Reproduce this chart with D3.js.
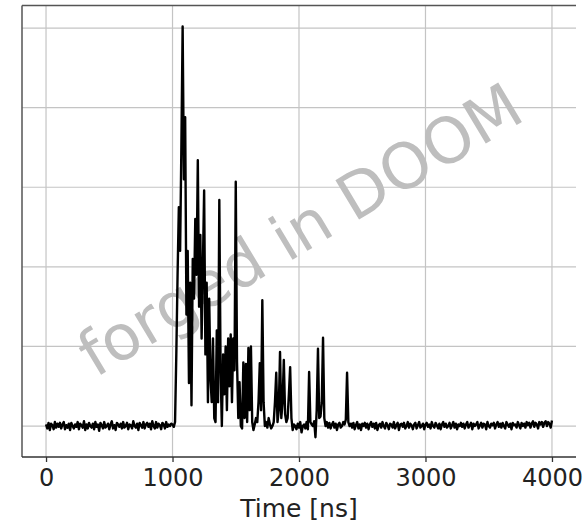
<!DOCTYPE html>
<html>
<head>
<meta charset="utf-8">
<script src="https://cdn.jsdelivr.net/npm/d3@7"></script>
<style>
  html, body { margin: 0; padding: 0; background: #fff; }
  svg { display: block; }
</style>
</head>
<body>
<div id="chart"></div>
<script>
// ---- data ----
const sampleStepNs = 10;
const xTickValues = [0, 1000, 2000, 3000, 4000];
const yGridValues = [0, 1, 2, 3, 4, 5];
const xLabel = "Time [ns]";
const watermark = "forged in DOOM";

// t = 0 .. 990 ns
const preTriggerNoise = [
  0.02,-0.03,0.04,-0.05,0.03,0.01,-0.04,0.05,-0.02,0.03,
  -0.01,0.04,-0.03,0.02,0.05,-0.04,0.01,-0.02,0.03,-0.05,
  0.04,0.00,-0.03,0.02,-0.01,0.05,-0.04,0.03,0.01,-0.02,
  0.06,-0.05,0.02,-0.03,0.04,0.00,-0.02,0.03,-0.04,0.05,
  -0.01,0.02,-0.06,0.04,0.01,-0.03,0.05,-0.02,0.00,0.03,
  -0.04,0.02,0.06,-0.03,0.01,-0.05,0.04,0.02,-0.01,0.03,
  -0.03,0.05,-0.02,0.00,0.04,-0.04,0.02,0.01,-0.03,0.06,
  0.00,-0.02,0.03,-0.05,0.04,0.01,-0.02,0.05,-0.03,0.02,
  0.04,-0.01,0.03,-0.04,0.06,0.00,-0.03,0.05,-0.02,0.03,
  0.01,-0.04,0.04,0.02,-0.03,0.05,-0.01,0.02,0.00,0.03
];

// t = 1000 .. 2400 ns
const pulseTrain = [
  0.02,-0.01,0.05,0.90,1.90,2.75,2.20,3.50,5.02,3.10,   // 1000-1090
  3.88,1.40,2.20,0.54,1.80,0.26,2.10,1.60,2.60,1.90,    // 1100-1190
  3.34,1.50,2.40,1.10,2.00,2.96,0.90,1.80,0.30,1.60,    // 1200-1290
  0.60,0.30,1.10,0.10,0.05,1.20,0.30,2.84,0.70,0.00,    // 1300-1390
  0.90,0.40,1.00,0.20,1.10,0.50,1.15,0.30,1.10,0.70,    // 1400-1490
  3.07,0.80,0.10,0.55,0.00,-0.03,0.80,0.10,0.78,0.05,   // 1500-1590
  0.98,0.20,1.00,0.05,-0.05,0.02,0.10,0.05,0.30,0.79,   // 1600-1690
  0.20,1.58,0.30,0.00,0.05,-0.02,0.10,0.02,-0.03,0.00,  // 1700-1790
  0.05,0.30,0.67,0.05,0.20,0.93,0.10,0.30,0.83,0.15,    // 1800-1890
  0.05,0.10,0.40,0.74,0.10,-0.05,0.02,0.00,-0.04,0.03,  // 1900-1990
  -0.02,0.05,-0.08,0.00,0.02,-0.03,0.05,-0.04,0.68,0.05,// 2000-2090
  0.02,0.00,0.06,-0.14,0.20,0.97,0.10,0.12,0.30,1.11,   // 2100-2190
  0.10,0.00,0.05,-0.02,0.04,-0.03,0.02,0.05,-0.02,0.03, // 2200-2290
  -0.05,0.02,0.04,-0.02,0.00,0.05,0.02,0.08,0.67,0.05,  // 2300-2390
  0.00                                                  // 2400
];

// t = 2410 .. 4000 ns
const tailNoise = [
  0.03,-0.02,0.04,-0.04,0.01,0.05,-0.03,0.02,-0.05,0.03,
  0.00,0.04,-0.02,0.03,-0.04,0.02,0.05,-0.01,0.03,-0.03,
  0.04,-0.05,0.01,0.03,-0.02,0.05,0.00,-0.03,0.04,0.01,
  -0.04,0.03,0.02,-0.02,0.05,-0.03,0.01,0.04,-0.05,0.02,
  0.03,-0.01,0.04,-0.03,0.00,0.05,-0.02,0.03,0.01,-0.04,
  0.02,0.04,-0.03,0.01,0.05,-0.02,0.00,0.03,-0.04,0.02,
  0.04,-0.01,0.02,-0.03,0.05,0.00,-0.02,0.04,0.01,-0.03,
  0.03,-0.04,0.02,0.05,-0.01,0.03,-0.02,0.00,0.04,-0.03,
  0.01,0.05,-0.02,0.03,-0.04,0.02,0.00,0.04,-0.01,0.03,
  -0.03,0.02,0.05,-0.02,0.01,0.04,-0.04,0.03,0.00,0.02,
  0.05,-0.03,0.01,0.04,-0.02,0.03,0.02,-0.04,0.05,0.00,
  -0.02,0.03,0.01,0.04,-0.03,0.02,0.05,-0.01,0.03,-0.02,
  0.04,0.00,-0.03,0.05,0.02,-0.01,0.03,-0.04,0.04,0.01,
  0.02,-0.02,0.05,0.01,-0.03,0.04,0.00,0.03,-0.02,0.05,
  0.01,0.04,-0.02,0.03,0.06,-0.01,0.04,0.02,-0.03,0.05,
  0.02,0.05,-0.01,0.04,0.06,0.00,0.05,0.03,-0.02,0.07
];

// ---- chart ----
const W = 583, H = 525;
const plot = { left: 22, right: 576, top: 5.5, bottom: 457 };

const signal = preTriggerNoise.concat(pulseTrain, tailNoise);
const points = signal.map((v, i) => ({ t: i * sampleStepNs, v }));

const x = d3.scaleLinear().domain([-190, 4190]).range([plot.left, plot.right]);
const y = d3.scaleLinear().domain([-0.389, 5.283]).range([plot.bottom, plot.top]);

const svg = d3.select("#chart").append("svg")
  .attr("width", W).attr("height", H);

// grid
const grid = svg.append("g").attr("stroke", "#c4c4c4").attr("stroke-width", 1.2);
grid.selectAll("line.v").data(xTickValues).join("line")
  .attr("x1", d => x(d)).attr("x2", d => x(d))
  .attr("y1", plot.top).attr("y2", plot.bottom);
grid.selectAll("line.h").data(yGridValues).join("line")
  .attr("x1", plot.left).attr("x2", plot.right)
  .attr("y1", d => y(d)).attr("y2", d => y(d));

// watermark (under the trace)
svg.append("text")
  .attr("transform", "translate(300,230) rotate(-31)")
  .attr("text-anchor", "middle")
  .attr("dominant-baseline", "central")
  .attr("font-family", "DejaVu Sans")
  .attr("font-size", 63)
  .attr("fill", "#bebebe")
  .text(watermark);

// trace
const line = d3.line().x(d => x(d.t)).y(d => y(d.v));
svg.append("path")
  .datum(points)
  .attr("d", line)
  .attr("fill", "none")
  .attr("stroke", "#000")
  .attr("stroke-width", 2.4)
  .attr("stroke-linejoin", "round");

// spines
svg.append("line").attr("x1", plot.left).attr("x2", plot.right)
  .attr("y1", plot.top).attr("y2", plot.top)
  .attr("stroke", "#555").attr("stroke-width", 1.5);
svg.append("line").attr("x1", plot.left).attr("x2", plot.left)
  .attr("y1", plot.top).attr("y2", plot.bottom)
  .attr("stroke", "#555").attr("stroke-width", 1.5);

// x axis
const xAxis = d3.axisBottom(x).tickValues(xTickValues).tickFormat(d3.format("d"))
  .tickSize(5).tickPadding(7);
const gx = svg.append("g").attr("transform", `translate(0,${plot.bottom})`).call(xAxis);
gx.select(".domain").attr("stroke", "#333").attr("stroke-width", 1.5)
  .attr("d", `M${plot.left},0H${plot.right}`);
gx.selectAll(".tick line").attr("stroke", "#333").attr("stroke-width", 1.3);
gx.selectAll(".tick text")
  .attr("font-family", "DejaVu Sans").attr("font-size", 24).attr("fill", "#222");

svg.append("text")
  .attr("x", x(2000)).attr("y", 517)
  .attr("text-anchor", "middle")
  .attr("font-family", "DejaVu Sans").attr("font-size", 25).attr("fill", "#222")
  .text(xLabel);
</script>
</body>
</html>
